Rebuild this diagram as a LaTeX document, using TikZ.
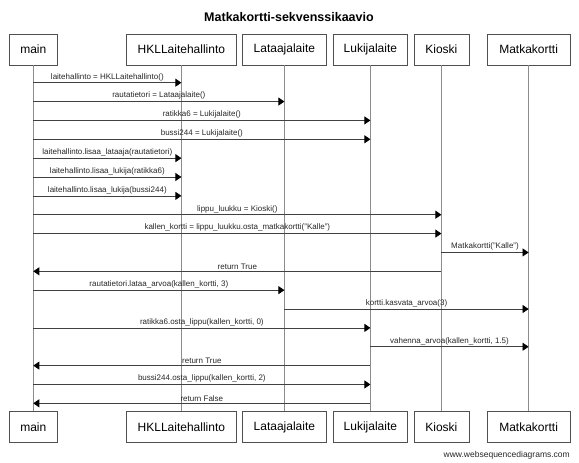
\documentclass[tikz,border=0pt]{standalone}
\usepackage{fontspec}
\setmainfont{Liberation Sans}
\usetikzlibrary{arrows.meta}
\definecolor{boxline}{HTML}{505050}
\definecolor{lifecol}{HTML}{8C8C8C}
\definecolor{msgcol}{HTML}{404040}
\tikzset{
  actor/.style={draw=boxline, fill=white, line width=0.8pt, minimum height=31pt, inner sep=0pt, font=\fontsize{12}{14}\selectfont},
  lifeline/.style={draw=lifecol, line width=0.8pt},
  msg/.style={draw=msgcol, line width=0.7pt, -{Triangle[length=6pt,width=8pt,color=black]}},
  msglabel/.style={font=\fontsize{8}{9}\selectfont, anchor=south, inner sep=0pt, yshift=1.6pt, text=black!85},
}
\newcommand\msgline[4]{\draw[msg] (#1.south |- 0,#3) -- (#2.south |- 0,#3) node[msglabel, midway] {#4};}
\begin{document}
\begin{tikzpicture}[x=1pt, y=-1pt]
\useasboundingbox (0,0) rectangle (579,463);
\node[font=\fontsize{12.5}{15}\selectfont\bfseries] (title) at (289,17.3) {Matkakortti-sekvenssikaavio};
% top actors
\node[actor, minimum width=48pt]    (t1) at (33.3,49.5)  {main};
\node[actor, minimum width=110.7pt] (t2) at (181.4,49.5) {HKLLaitehallinto};
\node[actor, minimum width=83.7pt]  (t3) at (284.4,49.5) {Lataajalaite};
\node[actor, minimum width=74pt]    (t4) at (370.4,49.5) {Lukijalaite};
\node[actor, minimum width=55pt]    (t5) at (441.4,49.5) {Kioski};
\node[actor, minimum width=83.4pt]  (t6) at (528.6,49.5) {Matkakortti};
% bottom actors
\node[actor, minimum width=48pt]    (b1) at (33.3,427.2)  {main};
\node[actor, minimum width=110.7pt] (b2) at (181.4,427.2) {HKLLaitehallinto};
\node[actor, minimum width=83.7pt]  (b3) at (284.4,427.2) {Lataajalaite};
\node[actor, minimum width=74pt]    (b4) at (370.4,427.2) {Lukijalaite};
\node[actor, minimum width=55pt]    (b5) at (441.4,427.2) {Kioski};
\node[actor, minimum width=83.4pt]  (b6) at (528.6,427.2) {Matkakortti};
% lifelines
\foreach \i in {1,...,6} { \draw[lifeline] (t\i) -- (b\i); }
% messages
\msgline{t1}{t2}{82.7}{laitehallinto = HKLLaitehallinto()}
\msgline{t1}{t3}{101.56}{rautatietori = Lataajalaite()}
\msgline{t1}{t4}{120.42}{ratikka6 = Lukijalaite()}
\msgline{t1}{t4}{139.28}{bussi244 = Lukijalaite()}
\msgline{t1}{t2}{158.14}{laitehallinto.lisaa\_lataaja(rautatietori)}
\msgline{t1}{t2}{177.0}{laitehallinto.lisaa\_lukija(ratikka6)}
\msgline{t1}{t2}{195.86}{laitehallinto.lisaa\_lukija(bussi244)}
\msgline{t1}{t5}{214.72}{lippu\_luukku = Kioski()}
\msgline{t1}{t5}{233.58}{kallen\_kortti = lippu\_luukku.osta\_matkakortti("Kalle")}
\msgline{t5}{t6}{252.44}{Matkakortti("Kalle")}
\msgline{t5}{t1}{271.3}{return True}
\msgline{t1}{t3}{290.16}{rautatietori.lataa\_arvoa(kallen\_kortti, 3)}
\msgline{t3}{t6}{309.02}{kortti.kasvata\_arvoa(3)}
\msgline{t1}{t4}{327.88}{ratikka6.osta\_lippu(kallen\_kortti, 0)}
\msgline{t4}{t6}{346.74}{vahenna\_arvoa(kallen\_kortti, 1.5)}
\msgline{t4}{t1}{365.6}{return True}
\msgline{t1}{t4}{384.46}{bussi244.osta\_lippu(kallen\_kortti, 2)}
\msgline{t4}{t1}{403.32}{return False}
% footer
\node[font=\fontsize{8.5}{10}\selectfont, anchor=east, inner sep=0pt, text=black!85] (footer) at (570,455) {www.websequencediagrams.com};
\end{tikzpicture}
\end{document}
